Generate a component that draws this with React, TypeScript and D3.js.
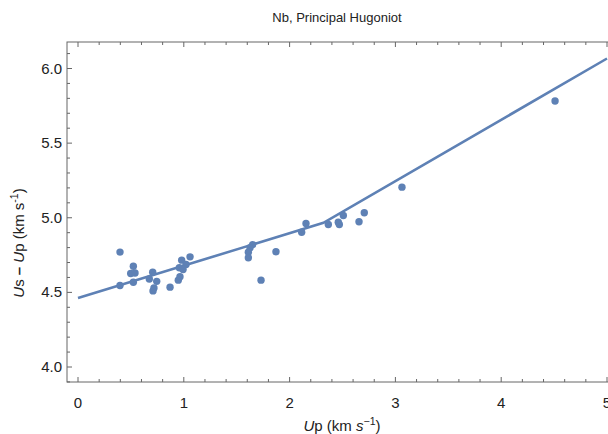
import React from "react";
import * as d3 from "d3";

const upValues = [0.397, 0.523, 0.498, 0.539, 0.523, 0.397, 0.706, 0.674, 0.744, 0.718, 0.709, 0.87, 0.948, 0.964, 0.958, 0.98, 1.021, 1.059, 0.993, 1.651, 1.626, 1.61, 1.61, 1.871, 1.73, 2.114, 2.155, 2.366, 2.46, 2.47, 2.508, 2.656, 2.706, 3.062, 4.509];
const usMinusUpValues = [4.77, 4.675, 4.626, 4.63, 4.568, 4.546, 4.635, 4.59, 4.574, 4.53, 4.51, 4.535, 4.582, 4.605, 4.665, 4.716, 4.687, 4.738, 4.653, 4.82, 4.799, 4.769, 4.732, 4.772, 4.582, 4.903, 4.962, 4.955, 4.97, 4.955, 5.015, 4.973, 5.034, 5.205, 5.782];
const fitX = [0, 2.32, 5.0];
const fitY = [4.462, 4.966, 6.067];
const xTicks = [0, 1, 2, 3, 4, 5];
const yTicks = [4.0, 4.5, 5.0, 5.5, 6.0];
const title = "Nb, Principal Hugoniot";

const W = 608, H = 434;
const left = 67, right = 609, top = 42, bottom = 382;
const color = "#5E81B5";
const axisColor = "#666";

export default function App() {
  const x = d3.scaleLinear().domain([0, 5]).range([78, 607]);
  const y = d3.scaleLinear().domain([4, 6]).range([367, 68.5]);
  const line = d3.line<number>().x((d) => x(fitX[d])).y((d) => y(fitY[d]));
  const xMinor = d3.range(-0.0, 5.01, 0.2).filter((v) => Math.abs(v - Math.round(v)) > 1e-6);
  const yMinor = d3.range(3.9, 6.19, 0.1).filter((v) => Math.abs(v * 2 - Math.round(v * 2)) > 1e-6);
  const font = "'Liberation Sans', Arial, sans-serif";
  return (
    <svg width={W} height={H} style={{ position: "absolute", left: 0, top: 0 }} fontFamily={font}>
      <defs>
        <clipPath id="plot">
          <rect x={left} y={top} width={right - left} height={bottom - top} />
        </clipPath>
      </defs>
      <rect width={W} height={H} fill="white" />
      <text x={337} y={22} textAnchor="middle" fontSize={13} fill="#222">{title}</text>
      <rect x={left} y={top} width={right - left} height={bottom - top} fill="none" stroke={axisColor} strokeWidth={1} />
      {xTicks.map((t) => (
        <g key={"xt" + t}>
          <line x1={x(t)} x2={x(t)} y1={bottom} y2={bottom - 5} stroke={axisColor} />
          <line x1={x(t)} x2={x(t)} y1={top} y2={top + 5} stroke={axisColor} />
          <text x={x(t)} y={bottom + 26} textAnchor="middle" fontSize={15} fill="#222">{t}</text>
        </g>
      ))}
      {xMinor.map((t) => (
        <g key={"xm" + t}>
          <line x1={x(t)} x2={x(t)} y1={bottom} y2={bottom - 3} stroke={axisColor} />
          <line x1={x(t)} x2={x(t)} y1={top} y2={top + 3} stroke={axisColor} />
        </g>
      ))}
      {yTicks.map((t) => (
        <g key={"yt" + t}>
          <line x1={left} x2={left + 5} y1={y(t)} y2={y(t)} stroke={axisColor} />
          <text x={left - 5} y={y(t) + 5} textAnchor="end" fontSize={15} fill="#222">{t.toFixed(1)}</text>
        </g>
      ))}
      {yMinor.map((t) => (
        <line key={"ym" + t} x1={left} x2={left + 3} y1={y(t)} y2={y(t)} stroke={axisColor} />
      ))}
      <g clipPath="url(#plot)">
        <path d={line(fitX.map((_, i) => i)) || ""} fill="none" stroke={color} strokeWidth={2.6} />
        {upValues.map((u, i) => (
          <circle key={i} cx={x(u)} cy={y(usMinusUpValues[i])} r={3.7} fill={color} />
        ))}
      </g>
      <text x={342} y={431} textAnchor="middle" fontSize={15} fill="#222">
        <tspan fontStyle="italic">U</tspan>p (km <tspan fontStyle="italic">s</tspan>
        <tspan dy={-6} fontSize={10.5}>−1</tspan>
        <tspan dy={6}>)</tspan>
      </text>
      <text transform={`translate(24,243) rotate(-90)`} textAnchor="middle" fontSize={15} fill="#222">
        <tspan fontStyle="italic">U</tspan>s <tspan fontWeight="bold">–</tspan> <tspan fontStyle="italic">U</tspan>p (km s
        <tspan dy={-6} fontSize={10.5}>-1</tspan>
        <tspan dy={6}>)</tspan>
      </text>
    </svg>
  );
}
